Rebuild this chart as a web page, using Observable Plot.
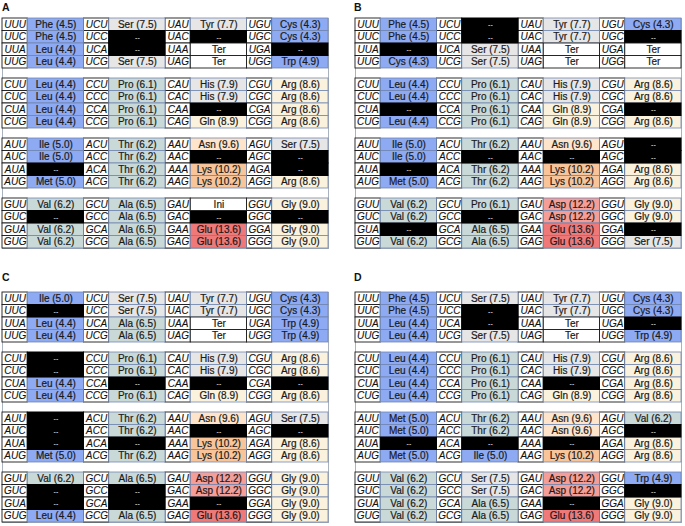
<!DOCTYPE html>
<html><head><meta charset="utf-8">
<script src="https://cdn.jsdelivr.net/npm/d3@7"></script>
<script src="https://cdn.jsdelivr.net/npm/@observablehq/plot@0.6"></script>
<style>
body{margin:0;background:#fff;font-family:"Liberation Sans",Arial,sans-serif;}
#wrap{position:relative;width:685px;height:526px;overflow:hidden;}
.panel{position:absolute;}
.lab{position:absolute;font-weight:bold;font-size:10.5px;line-height:1;color:#111;}
</style></head><body><div id="wrap"></div>
<script>
const bases = ["U","C","A","G"];
const panelNames = ["A","B","C","D"];

const panelA = [
 "Phe (4.5)","Phe (4.5)","Leu (4.4)","Leu (4.4)",
 "Ser (7.5)","--","--","Ser (7.5)",
 "Tyr (7.7)","--","Ter","Ter",
 "Cys (4.3)","Cys (4.3)","--","Trp (4.9)",
 "Leu (4.4)","Leu (4.4)","Leu (4.4)","Leu (4.4)",
 "Pro (6.1)","Pro (6.1)","Pro (6.1)","Pro (6.1)",
 "His (7.9)","His (7.9)","--","Gln (8.9)",
 "Arg (8.6)","Arg (8.6)","Arg (8.6)","Arg (8.6)",
 "Ile (5.0)","Ile (5.0)","--","Met (5.0)",
 "Thr (6.2)","Thr (6.2)","Thr (6.2)","Thr (6.2)",
 "Asn (9.6)","--","Lys (10.2)","Lys (10.2)",
 "Ser (7.5)","--","--","Arg (8.6)",
 "Val (6.2)","--","Val (6.2)","Val (6.2)",
 "Ala (6.5)","Ala (6.5)","Ala (6.5)","Ala (6.5)",
 "Ini","--","Glu (13.6)","Glu (13.6)",
 "Gly (9.0)","--","Gly (9.0)","Gly (9.0)"
];
const panelB = [
 "Phe (4.5)","Phe (4.5)","--","Cys (4.3)",
 "--","--","Ser (7.5)","Ser (7.5)",
 "Tyr (7.7)","Tyr (7.7)","Ter","Ter",
 "Cys (4.3)","--","Ter","Ter",
 "Leu (4.4)","Leu (4.4)","--","Leu (4.4)",
 "Pro (6.1)","Pro (6.1)","Pro (6.1)","Pro (6.1)",
 "His (7.9)","His (7.9)","Gln (8.9)","Gln (8.9)",
 "Arg (8.6)","Arg (8.6)","--","Arg (8.6)",
 "Ile (5.0)","Ile (5.0)","--","Met (5.0)",
 "Thr (6.2)","--","Thr (6.2)","Thr (6.2)",
 "Asn (9.6)","--","Lys (10.2)","Lys (10.2)",
 "--","--","Arg (8.6)","Arg (8.6)",
 "Val (6.2)","Val (6.2)","--","Val (6.2)",
 "Pro (6.1)","--","Ala (6.5)","Ala (6.5)",
 "Asp (12.2)","Asp (12.2)","Glu (13.6)","Glu (13.6)",
 "Gly (9.0)","Gly (9.0)","--","Ser (7.5)"
];
const panelC = [
 "Ile (5.0)","--","Leu (4.4)","Leu (4.4)",
 "Ser (7.5)","Ser (7.5)","Ala (6.5)","Ala (6.5)",
 "Tyr (7.7)","Tyr (7.7)","Ter","Ter",
 "Cys (4.3)","Cys (4.3)","Trp (4.9)","Trp (4.9)",
 "--","--","Leu (4.4)","Leu (4.4)",
 "Pro (6.1)","Pro (6.1)","--","Pro (6.1)",
 "His (7.9)","His (7.9)","--","Gln (8.9)",
 "Arg (8.6)","Arg (8.6)","--","Arg (8.6)",
 "--","--","--","Met (5.0)",
 "Thr (6.2)","Thr (6.2)","--","Thr (6.2)",
 "Asn (9.6)","--","Lys (10.2)","Lys (10.2)",
 "Ser (7.5)","--","Arg (8.6)","Arg (8.6)",
 "Val (6.2)","--","--","Leu (4.4)",
 "Ala (6.5)","--","--","Ala (6.5)",
 "Asp (12.2)","Asp (12.2)","--","Glu (13.6)",
 "Gly (9.0)","Gly (9.0)","Gly (9.0)","Gly (9.0)"
];
const panelD = [
 "Phe (4.5)","Phe (4.5)","Leu (4.4)","Leu (4.4)",
 "Ser (7.5)","--","--","Ser (7.5)",
 "Tyr (7.7)","Tyr (7.7)","Ter","Ter",
 "Cys (4.3)","Cys (4.3)","--","Trp (4.9)",
 "Leu (4.4)","Leu (4.4)","Leu (4.4)","Leu (4.4)",
 "Pro (6.1)","Pro (6.1)","Pro (6.1)","Pro (6.1)",
 "His (7.9)","His (7.9)","--","Gln (8.9)",
 "Arg (8.6)","Arg (8.6)","Arg (8.6)","Arg (8.6)",
 "Met (5.0)","Met (5.0)","--","Met (5.0)",
 "Thr (6.2)","Thr (6.2)","--","Ile (5.0)",
 "Asn (9.6)","Asn (9.6)","--","Lys (10.2)",
 "Val (6.2)","--","Arg (8.6)","Arg (8.6)",
 "Val (6.2)","Val (6.2)","Val (6.2)","Val (6.2)",
 "Ser (7.5)","Ser (7.5)","Ala (6.5)","Ala (6.5)",
 "Asp (12.2)","Asp (12.2)","--","Glu (13.6)",
 "Trp (4.9)","--","Gly (9.0)","Gly (9.0)"
];
const panels = [panelA, panelB, panelC, panelD];

const valueBreaks = [5.5, 7, 8.2, 9.3, 9.9, 11, 13];
const valueColors = ["#8eaaf2","#c9d9d7","#e6e6e6","#fbf2dd","#fde4ca","#f8c59b","#f59e98","#ef7979"];

const cw = 0.31;      // codon cell share of a column group
const blockStep = 4.8; // rows per block incl. gap

function toRows(labels) {
  return labels.map((lab, i) => {
    const b = Math.floor(i / 16), g = Math.floor(i / 4) % 4, r = i % 4;
    const m = lab.match(/\(([\d.]+)\)/);
    return {
      codon: bases[b] + bases[g] + bases[r],
      lab, g, y: b * blockStep + r,
      value: m ? +m[1] : null,
      kind: m ? "aa" : (lab === "--" ? "none" : "stop")
    };
  });
}

function drawPanel(labels) {
  const data = toRows(labels);
  const aa = data.filter(d => d.kind === "aa");
  const none = data.filter(d => d.kind === "none");
  const stop = data.filter(d => d.kind === "stop");
  const cellX1 = d => d.g + cw, cellX2 = d => d.g + 1;
  const y1 = d => d.y, y2 = d => d.y + 1, ym = d => d.y + 0.5;
  return Plot.plot({
    width: 328, height: 232,
    marginTop: 1, marginBottom: 1, marginLeft: 1, marginRight: 1,
    x: {domain: [0, 4], axis: null},
    y: {domain: [0, 3 * blockStep + 4], axis: null, reverse: true},
    color: {type: "threshold", domain: valueBreaks, range: valueColors},
    style: {fontFamily: "'Liberation Sans', Arial, sans-serif", fontSize: "10px"},
    marks: [
      Plot.frame({stroke: "#a9b2bd", strokeWidth: 1}),
      Plot.rect(data, {x1: d => d.g, x2: d => d.g + cw, y1, y2, fill: "white", stroke: "#1a1a1a", strokeWidth: 0.9}),
      Plot.rect(aa, {x1: cellX1, x2: cellX2, y1, y2, fill: "value", stroke: "#6d84ae", strokeWidth: 0.9, strokeOpacity: 0.85}),
      Plot.rect(none, {x1: cellX1, x2: cellX2, y1, y2, fill: "black", stroke: "black"}),
      Plot.rect(stop, {x1: cellX1, x2: cellX2, y1, y2, fill: "white", stroke: "#1a1a1a", strokeWidth: 0.9}),
      Plot.text(data, {x: d => d.g + cw / 2, y: ym, text: "codon", fontStyle: "italic", fill: "#111", stroke: "#111", strokeWidth: 0.12}),
      Plot.text(data.filter(d => d.kind !== "none"), {x: d => d.g + cw + (1 - cw) / 2, y: ym, text: "lab", fill: "#1a1a1a", stroke: "#1a1a1a", strokeWidth: 0.2}),
      Plot.text(none, {x: d => d.g + cw + (1 - cw) / 2, y: ym, text: "lab", fill: "white", fontSize: 7})
    ]
  });
}

const wrap = document.getElementById("wrap");
const pos = [[1, 17, 2, 2], [354, 17, 354, 2], [1, 291, 2, 272], [354, 291, 354, 272]];
panels.forEach((p, i) => {
  const div = document.createElement("div");
  div.className = "panel";
  div.style.left = pos[i][0] + "px";
  div.style.top = pos[i][1] + "px";
  div.appendChild(drawPanel(p));
  wrap.appendChild(div);
  const lab = document.createElement("div");
  lab.className = "lab";
  lab.style.left = pos[i][2] + "px";
  lab.style.top = pos[i][3] + "px";
  lab.textContent = panelNames[i];
  wrap.appendChild(lab);
});
</script>
</body></html>
